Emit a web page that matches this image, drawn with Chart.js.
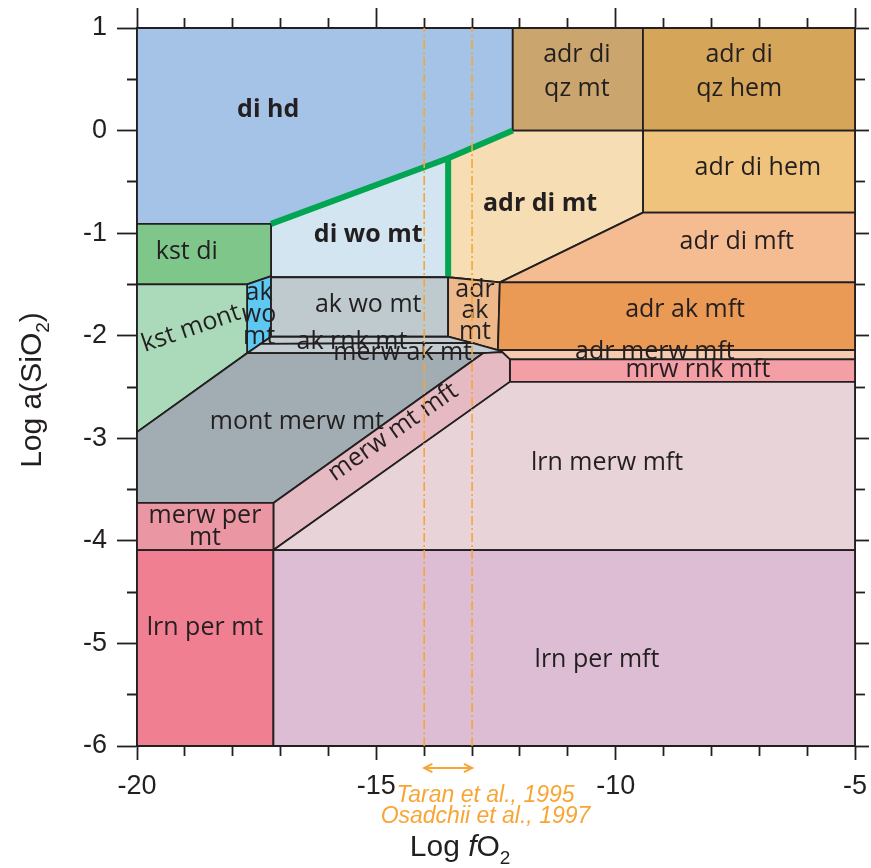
<!DOCTYPE html>
<html><head><meta charset="utf-8">
<script src="https://cdn.jsdelivr.net/npm/chart.js@4/dist/chart.umd.min.js"></script>
<style>html,body{margin:0;padding:0;background:#fff}#wrap{width:871px;height:868px}</style>
</head><body><div id="wrap"><canvas id="c" width="871" height="868"></canvas></div>
<script>
// ---------- axes ----------
const fO2Range = [-20, -5];
const aSiO2Range = [-6, 1];
const xTickLabels = [-20, -15, -10, -5];
const yTickLabels = [1, 0, -1, -2, -3, -4, -5, -6];

// ---------- field polygons (log fO2, log aSiO2) ----------
const diHd       = [[-20,1],[-12.15,1],[-12.15,0],[-13.5,-0.27],[-17.2,-0.91],[-20,-0.91]];
const adrDiQzMt  = [[-12.15,1],[-9.43,1],[-9.43,0],[-12.15,0]];
const adrDiQzHem = [[-9.43,1],[-5,1],[-5,0],[-9.43,0]];
const adrDiHem   = [[-9.43,0],[-5,0],[-5,-0.8],[-9.43,-0.8]];
const adrDiMt    = [[-13.5,-0.27],[-12.15,0],[-9.43,0],[-9.43,-0.8],[-12.42,-1.48],[-13.5,-1.43]];
const diWoMt     = [[-17.2,-0.91],[-13.5,-0.27],[-13.5,-1.43],[-17.2,-1.43]];
const kstDi      = [[-20,-0.91],[-17.2,-0.91],[-17.2,-1.42],[-17.7,-1.5],[-20,-1.5]];
const adrDiMft   = [[-9.43,-0.8],[-5,-0.8],[-5,-1.48],[-12.42,-1.48]];
const akWoMtS    = [[-17.7,-1.5],[-17.2,-1.42],[-17.2,-2.01],[-17.7,-2.17]];
const akWoMt     = [[-17.2,-1.43],[-13.5,-1.43],[-13.5,-2.01],[-17.2,-2.01]];
const adrAkMt    = [[-13.5,-1.43],[-12.42,-1.48],[-12.46,-2.14],[-13.5,-2.01]];
const adrAkMft   = [[-12.42,-1.48],[-5,-1.48],[-5,-2.14],[-12.46,-2.14]];
const kstMont    = [[-20,-1.5],[-17.7,-1.5],[-17.7,-2.17],[-20,-2.94]];
const akRnkMt    = [[-17.2,-2.01],[-13.5,-2.01],[-13.0,-2.07],[-17.42,-2.08]];
const merwAkMt   = [[-17.42,-2.08],[-13.0,-2.07],[-12.46,-2.14],[-12.37,-2.16],[-12.77,-2.17],[-17.7,-2.17]];
const adrMerwMft = [[-12.46,-2.14],[-5,-2.14],[-5,-2.23],[-12.21,-2.23],[-12.37,-2.16]];
const mrwRnkMft  = [[-12.21,-2.23],[-5,-2.23],[-5,-2.45],[-12.21,-2.45]];
const montMerwMt = [[-20,-2.94],[-17.7,-2.17],[-12.77,-2.17],[-17.15,-3.63],[-20,-3.63]];
const merwMtMft  = [[-17.15,-3.63],[-12.77,-2.17],[-12.37,-2.16],[-12.21,-2.23],[-12.21,-2.45],[-17.15,-4.09]];
const lrnMerwMft = [[-17.15,-4.09],[-12.21,-2.45],[-5,-2.45],[-5,-4.09]];
const merwPerMt  = [[-20,-3.63],[-17.15,-3.63],[-17.15,-4.09],[-20,-4.09]];
const lrnPerMt   = [[-20,-4.09],[-17.15,-4.09],[-17.15,-6],[-20,-6]];
const lrnPerMft  = [[-17.15,-4.09],[-5,-4.09],[-5,-6],[-17.15,-6]];

// ---------- boundaries ----------
const greenBoundary = [[-17.2,-0.91],[-13.5,-0.27],[-12.15,0]];
const greenVertical = [[-13.5,-0.27],[-13.5,-1.42]];
const literatureFO2 = [-14, -13];   // Taran et al. 1995, Osadchii et al. 1997
const arrowLevel = -6.215;
const arrowHeadL = [[-13.83,-6.175],[-14,-6.215],[-13.83,-6.255]];
const arrowHeadR = [[-13.17,-6.175],[-13,-6.215],[-13.17,-6.255]];

// ---------- field labels ----------
const fieldLabels = [
 {t:['di hd'], x:-17.26, y:0.20, b:true},
 {t:['adr di','qz mt'], x:-10.81, y:0.57, lh:34},
 {t:['adr di','qz hem'], x:-7.42, y:0.57, lh:34},
 {t:['adr di hem'], x:-7.03, y:-0.365},
 {t:['adr di mt'], x:-11.58, y:-0.71, b:true},
 {t:['di wo mt'], x:-15.17, y:-1.02, b:true},
 {t:['kst di'], x:-18.96, y:-1.18},
 {t:['adr di mft'], x:-7.47, y:-1.09},
 {t:['ak wo mt'], x:-15.17, y:-1.70},
 {t:['adr ak mft'], x:-8.55, y:-1.75},
 {t:['kst mont'], x:-18.87, y:-1.93, r:-19},
 {t:['ak','wo','mt'], x:-17.45, y:-1.80, lh:22},
 {t:['adr','ak','mt'], x:-12.94, y:-1.76, lh:21},
 {t:['ak rnk mt'], x:-15.51, y:-2.06},
 {t:['merw ak mt'], x:-14.45, y:-2.17},
 {t:['adr merw mft'], x:-9.18, y:-2.16},
 {t:['mrw rnk mft'], x:-8.28, y:-2.33},
 {t:['mont merw mt'], x:-16.66, y:-2.84},
 {t:['merw mt mft'], x:-14.65, y:-2.94, r:-35},
 {t:['lrn merw mft'], x:-10.18, y:-3.24},
 {t:['merw per','mt'], x:-18.58, y:-3.86, lh:22},
 {t:['lrn per mt'], x:-18.58, y:-4.85},
 {t:['lrn per mft'], x:-10.39, y:-5.16}
];

// ---------- styles ----------
const fields = [
 [diHd,'#a5c3e6'],[adrDiQzMt,'#caa56d'],[adrDiQzHem,'#d5a55a'],[adrDiHem,'#f0c37d'],
 [adrDiMt,'#f6ddb3'],[diWoMt,'#d3e5f0'],[kstDi,'#7ec68a'],[adrDiMft,'#f5bc91'],
 [akWoMtS,'#5ec8f2'],[akWoMt,'#bfcacf'],[adrAkMt,'#edb98b'],[adrAkMft,'#ea9a55'],
 [kstMont,'#abdabb'],[akRnkMt,'#c3cdd1'],[merwAkMt,'#c3cdd1'],[adrMerwMft,'#f4cbb0'],
 [mrwRnkMft,'#f49fa6'],[montMerwMt,'#a1adb3'],[merwMtMft,'#e5bac2'],[lrnMerwMft,'#e7d3d8'],
 [merwPerMt,'#eb96a3'],[lrnPerMt,'#f17f92'],[lrnPerMft,'#dcbdd3']
];
const INK = '#231f20', ORANGE = '#f8a535', GREEN = '#00a651';
const pts = a => a.map(([x,y]) => ({x, y}));
const closed = a => pts(a.concat([a[0]]));

const datasets = [];
literatureFO2.forEach(v => datasets.push({data: pts([[v,aSiO2Range[0]],[v,aSiO2Range[1]]]), borderColor: ORANGE,
  borderWidth: 1.6, borderDash: [9,3,2,3], pointRadius: 0, fill: false}));
datasets.push({data: pts([[literatureFO2[0],arrowLevel],[literatureFO2[1],arrowLevel]]), borderColor: ORANGE, borderWidth: 2, pointRadius: 0, fill: false, clip: false});
[arrowHeadL, arrowHeadR].forEach(h => datasets.push({data: pts(h), borderColor: ORANGE, borderWidth: 2, pointRadius: 0, fill: false, clip: false}));
datasets.push({data: pts(greenBoundary), borderColor: GREEN, borderWidth: 6, pointRadius: 0, fill: false, borderCapStyle: 'butt'});
datasets.push({data: pts(greenVertical), borderColor: GREEN, borderWidth: 6, pointRadius: 0, fill: false, borderCapStyle: 'butt'});
const firstField = datasets.length;
fields.slice().reverse().forEach(([poly, col]) => datasets.push({data: closed(poly), backgroundColor: col,
  borderColor: INK, borderWidth: 1.8, pointRadius: 0, fill: 'shape', tension: 0}));

const LAB = '"Open Sans", "Noto Sans", sans-serif';
const AX = '"Liberation Sans", Arial, sans-serif';

function drawLabels(chart) {
  const ctx = chart.ctx, xs = chart.scales.x, ys = chart.scales.y;
  ctx.save();
  ctx.fillStyle = INK; ctx.textAlign = 'center'; ctx.textBaseline = 'middle';
  fieldLabels.forEach(l => {
    ctx.save();
    ctx.translate(xs.getPixelForValue(l.x), ys.getPixelForValue(l.y));
    if (l.r) ctx.rotate(l.r * Math.PI / 180);
    ctx.font = (l.b ? 'bold 25px ' : '25px ') + LAB;
    const lh = l.lh || 30, n = l.t.length;
    l.t.forEach((s, i) => ctx.fillText(s, 0, (i - (n - 1) / 2) * lh));
    ctx.restore();
  });
  ctx.restore();
}

function runs(ctx, parts, x0, yb) {
  let x = x0;
  parts.forEach(p => { ctx.font = p.f; ctx.fillText(p.s, x, yb + (p.dy || 0)); x += ctx.measureText(p.s).width; });
}
function width(ctx, parts) { return parts.reduce((w, p) => { ctx.font = p.f; return w + ctx.measureText(p.s).width; }, 0); }

function drawTitles(chart) {
  const ctx = chart.ctx, xs = chart.scales.x, ca = chart.chartArea;
  ctx.save();
  ctx.fillStyle = INK; ctx.textAlign = 'left'; ctx.textBaseline = 'alphabetic';
  const xt = [{s:'Log ', f:'30px '+AX},{s:'f', f:'italic 30px '+AX},{s:'O', f:'30px '+AX},{s:'2', f:'19px '+AX, dy:8}];
  const cx = xs.getPixelForValue(-13.25);
  runs(ctx, xt, cx - width(ctx, xt) / 2, ca.bottom + 110);
  const yt = [{s:'Log a(SiO', f:'30px '+AX},{s:'2', f:'19px '+AX, dy:8},{s:')', f:'30px '+AX}];
  ctx.save();
  ctx.translate(41, (ca.top + ca.bottom) / 2 + 3);
  ctx.rotate(-Math.PI / 2);
  runs(ctx, yt, -width(ctx, yt) / 2, 0);
  ctx.restore();
  // literature references
  ctx.fillStyle = ORANGE; ctx.textAlign = 'center'; ctx.textBaseline = 'middle';
  ctx.font = 'italic 23px "Liberation Sans Narrow", ' + AX;
  const rx = xs.getPixelForValue(-12.72);
  ctx.fillText('Taran et al., 1995', rx, ca.bottom + 50);
  ctx.fillText('Osadchii et al., 1997', rx, ca.bottom + 71);
  ctx.restore();
}

const annot = {
  id: 'annot',
  afterDatasetDraw(chart, args) { if (args.index === firstField) drawLabels(chart); },
  afterDraw(chart) { drawTitles(chart); }
};

const isMajorX = v => Math.abs(v % 5) < 1e-9;
const isMajorY = v => Math.abs(v - Math.round(v)) < 1e-9;
const fitW = w => s => { s.width = w; s.paddingTop = 0; s.paddingBottom = 0; };
const fitH = h => s => { s.height = h; s.paddingLeft = 0; s.paddingRight = 0; };

new Chart(document.getElementById('c'), {
  type: 'line',
  data: { datasets },
  plugins: [annot],
  options: {
    responsive: false, animation: false,
    layout: { padding: 0 },
    plugins: { legend: { display: false }, tooltip: { enabled: false } },
    scales: {
      x: { type: 'linear', position: 'bottom', min: fO2Range[0], max: fO2Range[1],
        border: { color: INK, width: 2 },
        grid: { drawOnChartArea: false, tickLength: 14, tickColor: INK, tickWidth: 1.8,
          tickBorderDash: c => (c.tick && !isMajorX(c.tick.value)) ? [9, 100] : [] },
        ticks: { stepSize: 1, autoSkip: false, maxRotation: 0, padding: 10, color: INK,
          font: { family: AX, size: 27 }, callback: v => xTickLabels.includes(v) ? String(v) : '' },
        afterFit: fitH(122) },
      x2: { type: 'linear', position: 'top', min: fO2Range[0], max: fO2Range[1],
        border: { color: INK, width: 2 },
        grid: { drawOnChartArea: false, tickLength: 20, tickColor: INK, tickWidth: 1.8,
          tickBorderDash: c => (c.tick && !isMajorX(c.tick.value)) ? [0, 10, 10, 100] : [] },
        ticks: { stepSize: 1, display: false, autoSkip: false },
        afterFit: fitH(28) },
      y: { type: 'linear', position: 'left', min: aSiO2Range[0], max: aSiO2Range[1],
        border: { color: INK, width: 2 },
        grid: { drawOnChartArea: false, tickLength: 20, tickColor: INK, tickWidth: 1.8,
          tickBorderDash: c => (c.tick && !isMajorY(c.tick.value)) ? [0, 10, 10, 100] : [] },
        ticks: { stepSize: 0.5, autoSkip: false, padding: 10, color: INK,
          font: { family: AX, size: 27 }, callback: v => yTickLabels.includes(v) ? String(v) : '' },
        afterFit: fitW(137) },
      y2: { type: 'linear', position: 'right', min: aSiO2Range[0], max: aSiO2Range[1],
        border: { color: INK, width: 2 },
        grid: { drawOnChartArea: false, tickLength: 14, tickColor: INK, tickWidth: 1.8,
          tickBorderDash: c => (c.tick && !isMajorY(c.tick.value)) ? [9, 100] : [] },
        ticks: { stepSize: 0.5, display: false, autoSkip: false },
        afterFit: fitW(16) }
    }
  }
});
</script>
</body></html>
